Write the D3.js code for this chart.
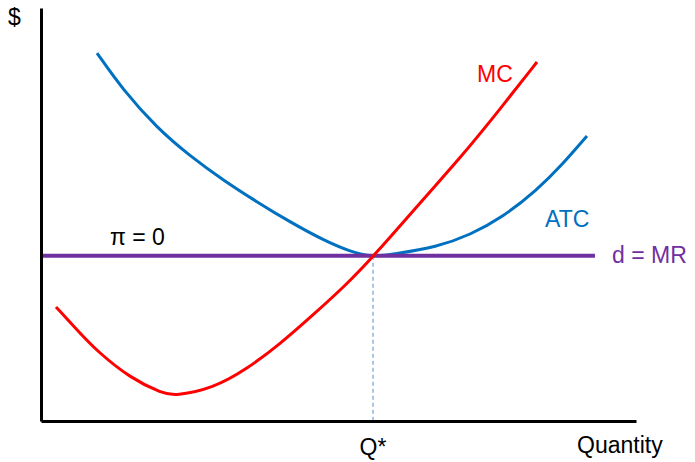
<!DOCTYPE html>
<html>
<head>
<meta charset="utf-8">
<script src="https://cdn.jsdelivr.net/npm/d3@7"></script>
<style>
  html, body { margin: 0; padding: 0; background: #fff; }
  svg { display: block; font-family: "Liberation Sans", Arial, sans-serif; }
</style>
</head>
<body>
<svg id="chart" width="695" height="462"></svg>
<script>
// Long-run equilibrium of a perfectly competitive firm: P = MC = min ATC

// Marginal cost curve (quantity, $)
const mcQ = [0.252, 0.655, 0.941, 1.496, 2.050, 2.252, 2.891, 3.462, 4.017, 4.571, 5.143, 5.597, 6.487, 7.042, 7.597, 8.336];
const mcP = [2.760, 2.131, 1.695, 1.041, 0.660, 0.610, 0.790, 1.259, 1.864, 2.567, 3.317, 4.000, 5.472, 6.368, 7.337, 8.692];

// Average total cost curve (quantity, $)
const atcQ = [0.941, 1.378, 1.950, 2.504, 3.059, 3.630, 4.185, 4.739, 5.193, 5.580, 5.916, 6.655, 7.210, 7.765, 8.336, 8.756, 9.176];
const atcP = [8.910, 8.015, 7.094, 6.416, 5.835, 5.303, 4.818, 4.383, 4.100, 3.970, 4.040, 4.213, 4.504, 4.939, 5.593, 6.199, 6.901];

// Demand = marginal revenue (horizontal at market price)
const price = 4.0;
const demandQ = [0, 9.31];

// Equilibrium quantity
const qStar = 5.58;

// Axis extents
const qDomain = [0, 10];
const pDomain = [0, 10];

const svg = d3.select("#chart");

const x = d3.scaleLinear().domain(qDomain).range([41, 636]);
const y = d3.scaleLinear().domain(pDomain).range([421, 8]);

const line = d3.line()
  .x(d => x(d[0]))
  .y(d => y(d[1]))
  .curve(d3.curveBasis);

// Dashed guide from equilibrium down to Q*
svg.append("line")
  .attr("x1", x(qStar)).attr("x2", x(qStar))
  .attr("y1", y(price)).attr("y2", y(0))
  .attr("stroke", "#5b8ccc")
  .attr("stroke-width", 1)
  .attr("stroke-dasharray", "4,3");

// ATC
svg.append("path")
  .datum(d3.zip(atcQ, atcP))
  .attr("d", line)
  .attr("fill", "none")
  .attr("stroke", "#0070C0")
  .attr("stroke-width", 3);

// d = MR
svg.append("line")
  .attr("x1", x(demandQ[0])).attr("x2", x(demandQ[1]))
  .attr("y1", y(price)).attr("y2", y(price))
  .attr("stroke", "#7030A0")
  .attr("stroke-width", 4);

// MC
svg.append("path")
  .datum(d3.zip(mcQ, mcP))
  .attr("d", line)
  .attr("fill", "none")
  .attr("stroke", "#FF0000")
  .attr("stroke-width", 3);

// Axes (no ticks, just the frame lines)
const xAxis = d3.axisBottom(x).tickValues([]).tickSizeOuter(0);
const yAxis = d3.axisLeft(y).tickValues([]).tickSizeOuter(0);

svg.append("g")
  .attr("transform", `translate(0,${y(0)})`)
  .call(xAxis)
  .call(g => g.select(".domain").attr("stroke", "#000").attr("stroke-width", 3));

svg.append("g")
  .attr("transform", `translate(${x(0)},0)`)
  .call(yAxis)
  .call(g => g.select(".domain").attr("stroke", "#000").attr("stroke-width", 3));

// Labels
const fs = 23;
const label = (tx, ty, text, color) =>
  svg.append("text")
    .attr("x", tx).attr("y", ty)
    .attr("font-size", fs)
    .attr("fill", color)
    .text(text);

label(8, 25, "$", "#000");
label(577, 453, "Quantity", "#000");
svg.append("text")
  .attr("x", x(qStar)).attr("y", 455)
  .attr("text-anchor", "middle")
  .attr("font-size", fs)
  .attr("fill", "#000")
  .text("Q*");
label(477, 82, "MC", "#FF0000");
label(545, 227, "ATC", "#0070C0");
label(612, 263, "d = MR", "#7030A0");
label(110, 245, "π = 0", "#000");
</script>
</body>
</html>
